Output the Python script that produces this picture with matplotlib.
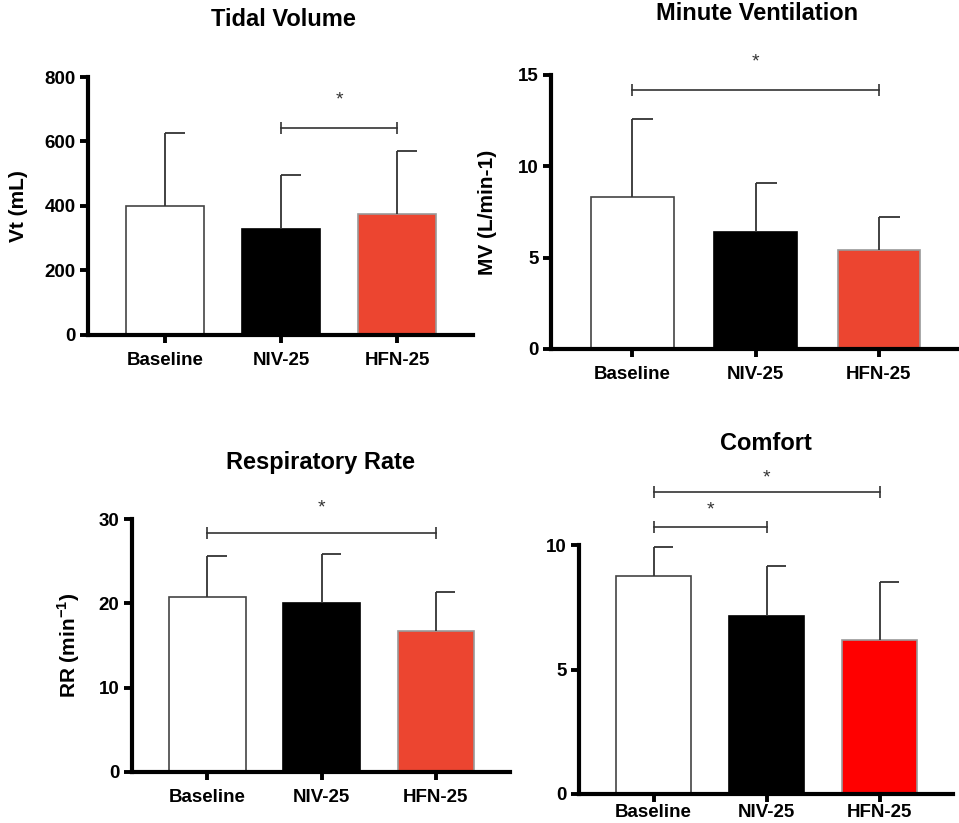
import matplotlib
matplotlib.use("Agg")
import matplotlib.pyplot as plt

plt.rcParams['font.family'] = ['Liberation Sans', 'DejaVu Sans']
plt.rcParams['font.weight'] = 'bold'
plt.rcParams['mathtext.fontset'] = 'custom'
plt.rcParams['mathtext.rm'] = 'Liberation Sans:bold'
plt.rcParams['mathtext.bf'] = 'Liberation Sans:bold'

groups = ['Baseline', 'NIV-25', 'HFN-25']

# means and SD (upper error bars)
vt_mean = [400, 330, 375]
vt_sd = [225, 165, 197]
mv_mean = [8.3, 6.4, 5.4]
mv_sd = [4.3, 2.7, 1.8]
rr_mean = [20.7, 20.0, 16.7]
rr_sd = [4.9, 5.8, 4.7]
comfort_mean = [8.75, 7.15, 6.2]
comfort_sd = [1.15, 2.0, 2.3]

# significance comparisons: (group a, group b, bar height, star height)
vt_sig = [(1, 2, 642, 730)]
mv_sig = [(0, 2, 14.2, 15.7)]
rr_sig = [(0, 2, 28.3, 31.3)]
comfort_sig = [(0, 1, 10.72, 11.4), (0, 2, 12.13, 12.7)]

W, H = 959, 823
RED = '#EC4530'

fig = plt.figure(figsize=(W / 100, H / 100), dpi=100)


def px_axes(left, right, top, bottom):
    return fig.add_axes([left / W, 1 - bottom / H, (right - left) / W, (bottom - top) / H])


def draw_panel(ax, means, sds, sig, ymax, yticks, ylabel, title, title_xy, red, label_x, xpad=6):
    x = list(range(len(groups)))
    colors = ['white', 'black', red]
    edges = ['#444444', 'black', '#999999']
    ax.bar(x, means, width=0.67, color=colors, edgecolor=edges, linewidth=1.2, zorder=2)
    tops = [m + s for m, s in zip(means, sds)]
    # one-sided error bars with right-hand caps
    ax.vlines(x, means, tops, color='#333333', lw=1.3, zorder=3)
    ax.hlines(tops, x, [xi + 0.17 for xi in x], color='#333333', lw=1.3, zorder=3)

    for a, b, yb, ys in sig:
        ax.plot([a, b], [yb, yb], color='#333333', lw=1.2, marker='|', ms=9, mew=1.2,
                clip_on=False, zorder=3)
        ax.text((a + b) / 2, ys, '*', ha='center', va='center', fontsize=14,
                fontweight='normal', color='#333333', clip_on=False)

    ax.set_xlim(-0.66, 2.65)
    ax.set_ylim(0, ymax)
    ax.set_yticks(yticks)
    ax.set_xticks(x)
    ax.set_xticklabels(groups)
    for s in ['top', 'right']:
        ax.spines[s].set_visible(False)
    for s in ['left', 'bottom']:
        ax.spines[s].set_linewidth(3)
    ax.tick_params(axis='both', direction='out', length=6, width=2.8, labelsize=13.5, pad=3)
    ax.tick_params(axis='x', pad=xpad)
    for lab in ax.get_xticklabels() + ax.get_yticklabels():
        lab.set_fontweight('bold')
    if ylabel:
        ax.set_ylabel(ylabel, fontsize=15, fontweight='bold')
        ax.yaxis.set_label_coords(label_x, 0.5)
    fig.text(title_xy[0] / W, 1 - title_xy[1] / H, title, ha='center', va='center',
             fontsize=17, fontweight='bold')


ax1 = px_axes(88, 473, 77, 335)
draw_panel(ax1, vt_mean, vt_sd, vt_sig, 800, [0, 200, 400, 600, 800], 'Vt (mL)',
           'Tidal Volume', (283, 20), RED, -0.156)

ax2 = px_axes(551, 959, 75, 349)
draw_panel(ax2, mv_mean, mv_sd, mv_sig, 15, [0, 5, 10, 15], 'MV (L/min-1)',
           'Minute Ventilation', (757, 14), RED, -0.132)

ax3 = px_axes(132, 510, 519, 772)
draw_panel(ax3, rr_mean, rr_sd, rr_sig, 30, [0, 10, 20, 30], r'RR (min$^{-1}$)',
           'Respiratory Rate', (321, 463), RED, -0.132)

ax4 = px_axes(579, 953, 545, 794)
draw_panel(ax4, comfort_mean, comfort_sd, comfort_sig, 10, [0, 5, 10], None,
           'Comfort', (766, 443), '#FF0000', 0, xpad=1)

fig.savefig('out.png', dpi=100)
